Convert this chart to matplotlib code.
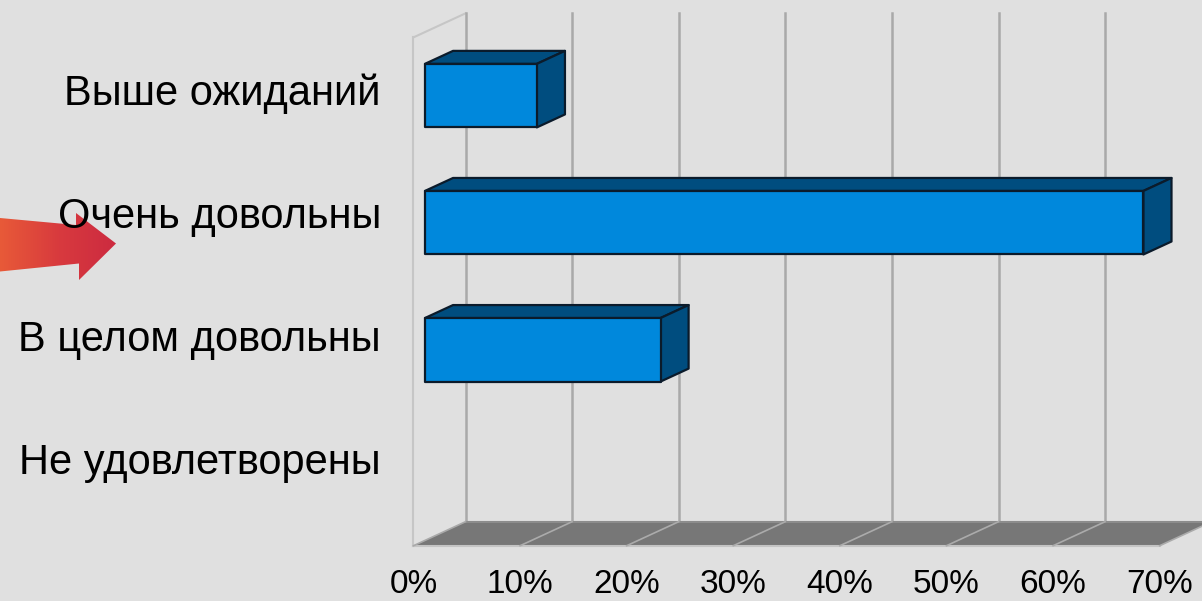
import matplotlib
matplotlib.use('Agg')
import matplotlib.pyplot as plt
import numpy as np
from matplotlib.patches import Polygon
from matplotlib.colors import LinearSegmentedColormap

plt.rcParams['font.family'] = ['Liberation Sans', 'DejaVu Sans']

# ---- data ----
categories = ['Выше ожиданий', 'Очень довольны', 'В целом довольны', 'Не удовлетворены']
values = [10.5, 67.4, 22.1, 0.0]
ticks = [0, 10, 20, 30, 40, 50, 60, 70]
tick_labels = ['0%', '10%', '20%', '30%', '40%', '50%', '60%', '70%']

# ---- style / layout ----
BG = '#e0e0e0'
FRONT = '#0088dc'
DARK = '#004d7f'
EDGE = '#0b1b2b'
GRID = '#a9a9a9'
WALL = '#c6c6c6'
FLOOR_C = '#777777'

DX, DY = 4.88, -0.189          # depth offset (front plane -> back wall)
FLOOR, TOP = 3.5, -0.5
BAR_F, BAR_B, BAR_H = 0.22, 0.76, 0.5

fig = plt.figure(figsize=(12.02, 6.01), dpi=100, facecolor=BG)

# decoration layer (pixel coords)
deco = fig.add_axes([0, 0, 1, 1], zorder=0)
deco.set_xlim(0, 1202)
deco.set_ylim(601, 0)
deco.axis('off')
deco.set_facecolor(BG)

arrow_pts = [(0, 218), (76, 225), (76, 213), (116, 243.5), (79, 280),
             (79, 263.5), (0, 271.5)]
arrow = Polygon(arrow_pts, closed=True, facecolor='none', edgecolor='none')
deco.add_patch(arrow)
cmap = LinearSegmentedColormap.from_list('arr', ['#e85a38', '#d83a3e', '#cc2a40'])
grad = np.linspace(0, 1, 256).reshape(1, -1)
im = deco.imshow(grad, extent=[0, 118, 282, 210], cmap=cmap, aspect='auto',
                 interpolation='bilinear')
im.set_clip_path(arrow)

# chart layer
ax = fig.add_axes([0, 0, 1, 1], zorder=1)
ax.set_facecolor('none')
ax.set_xlim(-38.79, 73.97)
ax.set_ylim(3.935, -0.794)
ax.axis('off')

# left wall
ax.plot([0, 0], [FLOOR, TOP], color=WALL, lw=1.5, zorder=1)
ax.plot([0, DX], [TOP, TOP + DY], color=WALL, lw=1.5, zorder=1)

# back wall gridlines
for t in ticks:
    ax.plot([t + DX, t + DX], [FLOOR + DY, TOP + DY], color=GRID, lw=1.8, zorder=1)

# floor
xmax = ticks[-1]
floor = Polygon([(0, FLOOR), (xmax, FLOOR), (xmax + DX, FLOOR + DY), (DX, FLOOR + DY)],
                closed=True, facecolor=FLOOR_C, edgecolor='none', zorder=2)
ax.add_patch(floor)
ax.plot([DX, xmax + DX], [FLOOR + DY, FLOOR + DY], color='#8c8c8c', lw=1.5, zorder=3)
ax.plot([0, xmax], [FLOOR, FLOOR], color='#c4c4c4', lw=1.5, zorder=3)
for t in ticks:
    c = GRID if t == 0 else '#ababab'
    ax.plot([t, t + DX], [FLOOR, FLOOR + DY], color=c, lw=1.2, zorder=3)

# bars
fx, fy = BAR_F * DX, BAR_F * DY
ddx, ddy = (BAR_B - BAR_F) * DX, (BAR_B - BAR_F) * DY
for i, v in enumerate(values):
    if v <= 0:
        continue
    x0, x1 = fx, v + fx
    yT, yB = i - BAR_H / 2 + fy, i + BAR_H / 2 + fy
    top = Polygon([(x0, yT), (x1, yT), (x1 + ddx, yT + ddy), (x0 + ddx, yT + ddy)],
                  closed=True, facecolor=DARK, edgecolor=EDGE, lw=1.6, zorder=5,
                  joinstyle='round')
    side = Polygon([(x1, yT), (x1 + ddx, yT + ddy), (x1 + ddx, yB + ddy), (x1, yB)],
                   closed=True, facecolor=DARK, edgecolor=EDGE, lw=1.6, zorder=5,
                   joinstyle='round')
    front = Polygon([(x0, yT), (x1, yT), (x1, yB), (x0, yB)],
                    closed=True, facecolor=FRONT, edgecolor=EDGE, lw=1.6, zorder=6,
                    joinstyle='round')
    for p in (top, side, front):
        ax.add_patch(p)

# category labels
LABEL_X = -3.05
LABEL_BASE, LABEL_STEP = 0.032, 0.968
for i, c in enumerate(categories):
    ax.text(LABEL_X, LABEL_BASE + i * LABEL_STEP, c, ha='right', va='baseline',
            fontsize=30, color='black', zorder=10)

# x tick labels
for t, lab in zip(ticks, tick_labels):
    ax.text(t, 3.875, lab, ha='center', va='baseline', fontsize=24,
            color='black', zorder=10)

fig.savefig('out.png', dpi=100, facecolor=BG)
